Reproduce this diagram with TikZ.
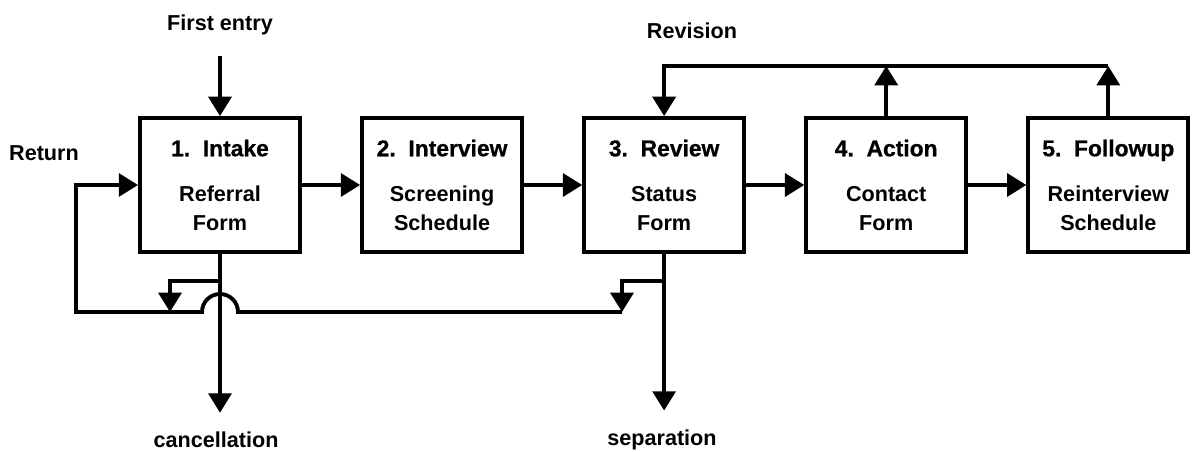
\documentclass[tikz,border=0pt]{standalone}
\usepackage{fontspec}
\setmainfont{Liberation Sans}
\newfontface\headfont{Liberation Sans Bold}[FakeBold=0.8]
\usetikzlibrary{arrows.meta}
\usetikzlibrary{positioning}

\tikzset{
  stage/.style={draw, line width=2.2pt, minimum width=3.2cm, minimum height=2.68cm,
    align=center, inner sep=0pt, font=\bfseries\fontsize{12.3}{16}\selectfont},
  flow/.style={line width=2.2pt, -{Triangle[length=11pt,width=13pt]}},
  tag/.style={inner sep=0pt, font=\bfseries\fontsize{12.3}{14}\selectfont}
}
\newcommand{\stagetext}[3]{{\headfont\fontsize{13}{14}\selectfont #1}\\[10pt] #2\\ #3}

\begin{document}
\begin{tikzpicture}[x=0.02cm, y=-0.02cm]
\useasboundingbox (0,0) rectangle (1198,452);

                \node[stage] (intake) at (220,185) {\stagetext{1.~~Intake}{Referral}{Form}};
                \node[stage] (interview) [right=1.165cm of intake] {\stagetext{2.~~Interview}{Screening}{Schedule}};
                \node[stage] (review) [right=1.165cm of interview] {\stagetext{3.~~Review}{Status}{Form}};
                \node[stage] (action) [right=1.165cm of review] {\stagetext{4.~~Action}{Contact}{Form}};
                \node[stage] (followup) [right=1.165cm of action] {\stagetext{5.~~Followup}{Reinterview}{Schedule}};

                \node[tag] (first) at (220,25) {First entry};
                \node[tag] (revision) at (692,31) {Revision};
                \node[tag] (return) at (44,153) {Return};
                \node[tag] (cancel) at (216,440) {cancellation};
                \node[tag] (separate) at (662,440) {separation};

                \coordinate (branchy) at (0,281);
                \coordinate (backy) at (0,312);
                \coordinate (revy) at (0,66);
                \coordinate (retx) at (76,0);
                \coordinate (backin) at (622,312);
                \coordinate (cancin) at (170,312);
                \coordinate (jumpr) at (238,312);

                \draw[flow, shorten <=0.42cm] (first) -- (intake);
                \draw[flow] (intake) -- (interview);
                \draw[flow] (interview) -- (review);
                \draw[flow] (review) -- (action);
                \draw[flow] (action) -- (followup);

                \draw[flow, shorten >=0.38cm] (intake.south) -- (intake.south |- cancel.north);
                \draw[flow, shorten >=0.38cm] (review.south) -- (review.south |- separate.north);
                \draw[flow] (intake.south |- branchy) -| (cancin);
                \draw[flow] (review.south |- branchy) -| (backin);
                \draw[flow] (backin) -- (jumpr) arc[start angle=0, end angle=180, radius=0.36cm]
                    -- (retx |- backy) |- (intake.west);

                \draw[flow] (action.north) -- (action.north |- revy);
                \draw[flow] (followup.north) -- (followup.north |- revy);
                \draw[flow] (followup.north |- revy) -- (review.north |- revy) -- (review.north);

\end{tikzpicture}
\end{document}
